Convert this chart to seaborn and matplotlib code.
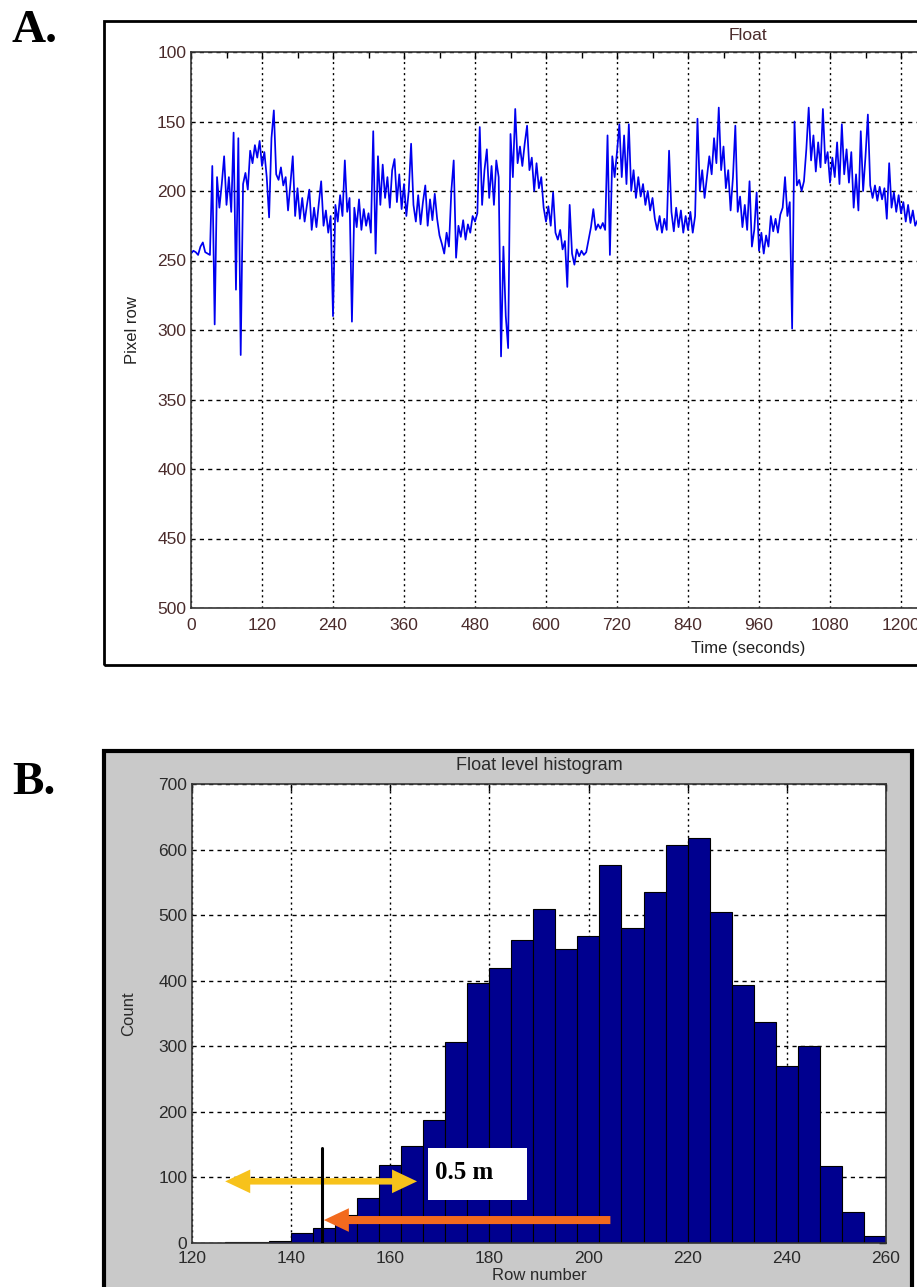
import numpy as np
import pandas as pd
import matplotlib
matplotlib.use("Agg")
import matplotlib.pyplot as plt
import seaborn as sns
from matplotlib.patches import Rectangle, FancyArrowPatch, ArrowStyle
from matplotlib.ticker import MultipleLocator

sns.set_theme(style="white")
plt.rcParams["font.family"] = ["Liberation Sans", "DejaVu Sans"]

# ---------------- data: panel A (float pixel row, one reading every 4 s) -------------
SAMPLE_STEP_S = 4
float_row_px = [
    245, 243, 244, 246, 240, 237, 244, 245, 246, 182,
    296, 190, 212, 195, 175, 210, 190, 215, 158, 271,
    162, 318, 195, 187, 199, 171, 180, 167, 176, 164,
    182, 172, 190, 219, 162, 142, 188, 192, 183, 196,
    190, 214, 195, 175, 218, 198, 220, 205, 222, 210,
    199, 228, 212, 226, 209, 193, 225, 214, 230, 218,
    290, 210, 222, 203, 218, 178, 215, 205, 294, 212,
    226, 206, 228, 213, 225, 216, 230, 157, 245, 175,
    210, 181, 205, 190, 212, 185, 177, 208, 188, 213,
    195, 218, 200, 166, 210, 222, 203, 224, 208, 196,
    225, 206, 221, 202, 220, 232, 238, 245, 230, 240,
    200, 178, 248, 225, 233, 221, 235, 224, 230, 218,
    222, 216, 154, 210, 185, 170, 205, 182, 210, 178,
    190, 319, 240, 290, 313, 159, 190, 141, 180, 168,
    182, 166, 153, 185, 176, 200, 180, 198, 190, 212,
    222, 211, 225, 201, 230, 235, 228, 242, 236, 269,
    210, 245, 253, 242, 247, 243, 246, 244, 235, 226,
    213, 228, 224, 227, 223, 228, 160, 246, 175, 190,
    172, 152, 190, 160, 195, 152, 200, 185, 205, 190,
    204, 195, 210, 200, 214, 205, 220, 228, 218, 230,
    220, 228, 171, 215, 229, 212, 226, 214, 230, 218,
    228, 215, 230, 218, 148, 200, 185, 205, 190, 175,
    188, 162, 180, 140, 185, 168, 198, 185, 214, 190,
    153, 215, 204, 226, 210, 228, 193, 240, 228, 201,
    243, 230, 245, 232, 240, 218, 229, 220, 230, 217,
    212, 190, 218, 208, 299, 150, 196, 192, 200, 193,
    170, 140, 178, 160, 186, 165, 183, 141, 180, 172,
    194, 176, 190, 165, 195, 152, 188, 170, 194, 172,
    212, 188, 214, 157, 200, 175, 145, 196, 205, 196,
    207, 197, 206, 198, 220, 180, 212, 201, 215, 203,
    216, 208, 222, 210, 223, 214, 225, 221,
]
time_s = np.arange(len(float_row_px)) * SAMPLE_STEP_S

# ---------------- data: panel B (histogram of float level) ----------------------------
hist_row_min = 126.6
hist_row_max = 260.0
hist_counts = [1, 1, 3, 16, 23, 43, 68, 119, 148, 188,
               306, 397, 420, 462, 510, 448, 468, 576, 481, 535,
               607, 617, 505, 394, 337, 270, 300, 117, 48, 11]
n_bins = len(hist_counts)
bin_w = (hist_row_max - hist_row_min) / n_bins
bin_centers = hist_row_min + bin_w * (np.arange(n_bins) + 0.5)
hist_df = pd.DataFrame({"row": bin_centers, "count": hist_counts})

# annotation values (row number / count)
marker_row = 146.3
marker_top = 145
yellow_from, yellow_to, yellow_level = 126.7, 165.4, 94
orange_from, orange_to, orange_level = 204.4, 146.6, 35
label_box = (167.7, 65, 187.5, 145)   # x0, y0, x1, y1

# ---------------- figure --------------------------------------------------------------
W, H = 917, 1287
fig = plt.figure(figsize=(W / 100, H / 100), dpi=100)
fig.patch.set_facecolor("white")

def fx(px):
    return px / W

def fy(py):
    return 1 - py / H

# outer frames
fig.add_artist(Rectangle((fx(104), fy(665)), 1.0, fy(21) - fy(665),
                         transform=fig.transFigure, fill=False,
                         ec="black", lw=2, zorder=0))
fig.add_artist(Rectangle((fx(104), fy(1300)), fx(912) - fx(104), fy(751) - fy(1300),
                         transform=fig.transFigure, fc="#c9c9c9",
                         ec="black", lw=3, zorder=0))

fig.text(fx(12), fy(42), "A.", fontsize=34, fontweight="bold", color="black",
         family="Liberation Serif", va="baseline", ha="left")
fig.text(fx(12), fy(794), "B.", fontsize=34, fontweight="bold", color="black",
         family="Liberation Serif", va="baseline", ha="left")

# ---------------- panel A -------------------------------------------------------------
a_left, a_right, a_top, a_bot = 191, 1305, 52, 608
axA = fig.add_axes([fx(a_left), fy(a_bot), fx(a_right) - fx(a_left), fy(a_top) - fy(a_bot)])
axA.set_facecolor("white")
sns.lineplot(x=time_s, y=float_row_px, ax=axA, color="#0000f0", lw=1.25,
             estimator=None, sort=False)
axA.set_xlim(0, (a_right - a_left) / (71.0 / 120))
axA.set_ylim(500, 100)
axA.xaxis.set_major_locator(MultipleLocator(120))
axA.xaxis.set_minor_locator(MultipleLocator(60))
axA.yaxis.set_major_locator(MultipleLocator(50))
tick_col_a = "#4a2b2b"
axA.tick_params(which="both", direction="in", top=True, right=True,
                labelsize=12.5, labelcolor=tick_col_a, color="black")
axA.tick_params(which="major", length=5, width=1)
axA.tick_params(which="minor", length=4, width=1)
axA.tick_params(axis="x", pad=7)
axA.set_axisbelow(True)
axA.xaxis.grid(True, color="black", linestyle=(0, (1.5, 2.5)), lw=1.0)
axA.yaxis.grid(True, color="black", linestyle=(0, (3, 3)), lw=1.0)
for s in axA.spines.values():
    s.set_color("#333333")
    s.set_linewidth(1.2)
axA.set_title("Float", fontsize=12.5, color=tick_col_a, pad=9)
axA.set_xlabel("Time (seconds)", fontsize=12, color="#222222", labelpad=6)
axA.set_ylabel("Pixel row", fontsize=12, color="#222222", labelpad=12)

# ---------------- panel B -------------------------------------------------------------
b_left, b_right, b_top, b_bot = 192, 886, 784, 1243
axB = fig.add_axes([fx(b_left), fy(b_bot), fx(b_right) - fx(b_left), fy(b_top) - fy(b_bot)])
axB.set_facecolor("white")
sns.histplot(data=hist_df, x="row", weights="count", bins=n_bins,
             binrange=(hist_row_min, hist_row_max), ax=axB,
             color="#00008f", edgecolor="black", linewidth=0.8, alpha=1.0)
axB.set_xlim(120, 260)
axB.set_ylim(0, 700)
axB.xaxis.set_major_locator(MultipleLocator(20))
axB.yaxis.set_major_locator(MultipleLocator(100))
tick_col_b = "#2a2a2a"
axB.tick_params(which="both", direction="in", top=True, right=True,
                labelsize=12.5, labelcolor=tick_col_b, length=5, width=1, color="black")
axB.tick_params(axis="x", pad=6)
axB.set_axisbelow(True)
axB.xaxis.grid(True, color="black", linestyle=(0, (1.5, 2.5)), lw=1.0)
axB.yaxis.grid(True, color="black", linestyle=(0, (3, 3)), lw=1.0)
for s in axB.spines.values():
    s.set_color("#333333")
    s.set_linewidth(1.2)
axB.set_title("Float level histogram", fontsize=13, color=tick_col_b, pad=10)
axB.set_xlabel("Row number", fontsize=12, color=tick_col_b, labelpad=1)
axB.set_ylabel("Count", fontsize=12, color=tick_col_b, labelpad=16)

# annotations
yellow = "#f7c21b"
orange = "#f26a1e"
ymid = (yellow_from + yellow_to) / 2
yel_style = ArrowStyle("simple", head_length=18, head_width=17, tail_width=4.6)
for end in (yellow_from, yellow_to):
    axB.add_patch(FancyArrowPatch((ymid, yellow_level), (end, yellow_level),
                                  arrowstyle=yel_style, mutation_scale=1,
                                  color=yellow, lw=0, shrinkA=0, shrinkB=0, zorder=5))
axB.add_patch(FancyArrowPatch((orange_from, orange_level), (orange_to, orange_level),
                              arrowstyle=ArrowStyle("simple", head_length=18, head_width=17,
                                                    tail_width=5.8),
                              mutation_scale=1, color=orange, lw=0,
                              shrinkA=0, shrinkB=0, zorder=5))
axB.plot([marker_row, marker_row], [0, marker_top], color="black", lw=2.2, zorder=6)
x0, y0, x1, y1 = label_box
axB.add_patch(Rectangle((x0, y0), x1 - x0, y1 - y0, fc="white", ec="none", zorder=6))
axB.text(x0 + 1.4, (y0 + y1) / 2 + 3, "0.5 m", family="Liberation Serif",
         fontweight="bold", fontsize=18, ha="left", va="center", color="black", zorder=7)

fig.savefig("out.png", dpi=100)
